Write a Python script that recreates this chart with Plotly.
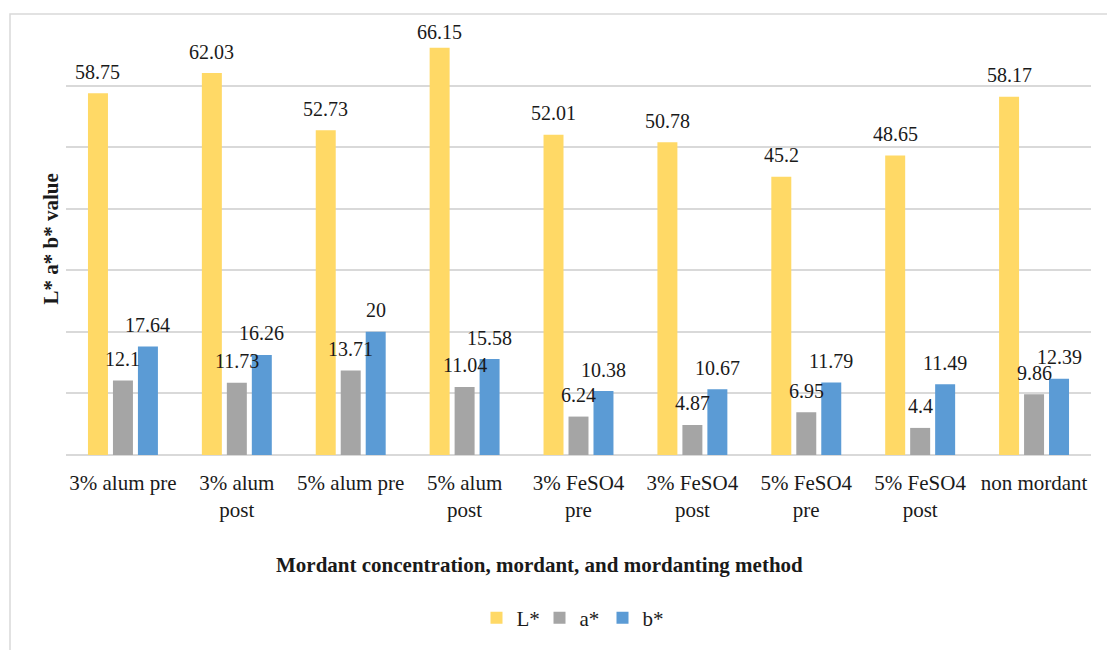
import plotly.graph_objects as go

categories = [
    "3% alum pre", "3% alum<br>post", "5% alum pre", "5% alum<br>post",
    "3% FeSO4<br>pre", "3% FeSO4<br>post", "5% FeSO4<br>pre", "5% FeSO4<br>post",
    "non mordant",
]
l_star = [58.75, 62.03, 52.73, 66.15, 52.01, 50.78, 45.2, 48.65, 58.17]
a_star = [12.1, 11.73, 13.71, 11.04, 6.24, 4.87, 6.95, 4.4, 9.86]
b_star = [17.64, 16.26, 20, 15.58, 10.38, 10.67, 11.79, 11.49, 12.39]

series = [
    ("L*", l_star, "#FFD966"),
    ("a*", a_star, "#A5A5A5"),
    ("b*", b_star, "#5B9BD5"),
]

FONT = "Liberation Serif, Times New Roman, serif"
TXT = "#1a1a1a"
Y_MAX = 70

fig = go.Figure()
for name, vals, color in series:
    fig.add_trace(go.Bar(
        name=name, x=categories, y=vals,
        marker=dict(color=color, line=dict(width=0)),
    ))

# value labels sit above each bar, kept inside the plotting area
n_series = len(series)
slot = (1 - 0.342) / n_series
annotations = []
for s, (name, vals, color) in enumerate(series):
    offset = (s - (n_series - 1) / 2) * slot
    for i, v in enumerate(vals):
        annotations.append(dict(
            x=i + offset, y=min(v + 3.5, Y_MAX - 1.3), xref="x", yref="y",
            text=f"{v:g}", showarrow=False, yanchor="middle", xanchor="center",
            font=dict(family=FONT, size=20, color=TXT),
        ))

annotations.append(dict(
    x=(539 - 66) / 1025, y=(455 - 565) / 431, xref="paper", yref="paper",
    xanchor="center", yanchor="middle",
    text="<b>Mordant concentration, mordant, and mordanting method</b>",
    showarrow=False, font=dict(family=FONT, size=21, color=TXT),
))
annotations.append(dict(
    x=(50 - 66) / 1025, y=0.5, xref="paper", yref="paper",
    xanchor="center", yanchor="middle",
    text="<b>L* a* b* value</b>", textangle=-90,
    showarrow=False, font=dict(family=FONT, size=21, color=TXT),
))

fig.update_layout(
    width=1107, height=650,
    margin=dict(l=66, r=16, t=24, b=195),
    paper_bgcolor="white", plot_bgcolor="white",
    barmode="group", bargap=0.342, bargroupgap=0.2,
    font=dict(family=FONT, size=21, color=TXT),
    showlegend=True,
    legend=dict(
        orientation="h", x=(571 - 66) / 1025, xanchor="center",
        y=(455 - 618) / 431, yanchor="middle",
        font=dict(family=FONT, size=21, color=TXT),
        itemwidth=30, tracegroupgap=0,
        entrywidth=18, entrywidthmode="pixels",
    ),
    annotations=annotations,
    shapes=[dict(
        type="rect", xref="paper", yref="paper",
        x0=(10 - 66) / 1025, x1=1.2, y0=-0.6, y1=(455 - 14) / 431,
        line=dict(color="#D9D9D9", width=1.5), layer="below",
    )],
)
fig.update_xaxes(
    showline=False, showgrid=False, ticks="",
    tickfont=dict(family=FONT, size=21, color=TXT),
    ticklabelstandoff=13,
)
fig.update_yaxes(
    range=[0, Y_MAX], dtick=10, showticklabels=False,
    showgrid=True, gridcolor="#D9D9D9", gridwidth=1.5,
    zeroline=True, zerolinecolor="#D9D9D9", zerolinewidth=1.5,
    showline=False, ticks="",
)

fig.write_html("out.html")
